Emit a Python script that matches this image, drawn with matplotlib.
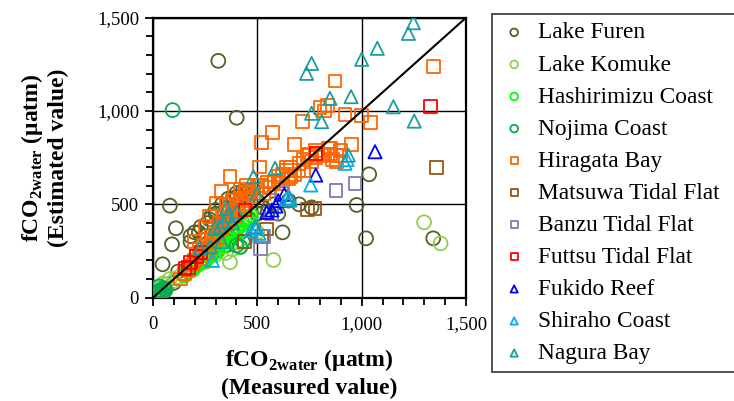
import matplotlib
matplotlib.use("Agg")
import matplotlib.pyplot as plt
from matplotlib.ticker import MultipleLocator, FuncFormatter

plt.rcParams['font.family'] = ['Liberation Serif', 'DejaVu Serif']
plt.rcParams['mathtext.fontset'] = 'custom'
plt.rcParams['mathtext.rm'] = 'Liberation Serif:bold'
plt.rcParams['mathtext.bf'] = 'Liberation Serif:bold'

# ---------------- data (measured, estimated) in uatm ----------------
furen_x = [20, 40, 60, 100, 120, 150, 46, 91, 110, 81, 180, 200, 230, 250, 270, 300, 320, 350, 380, 400,
           420, 450, 480, 500, 530, 550, 580, 600, 621, 650, 700, 760, 976, 1021, 1036, 1343, 313, 401,
           300, 350, 400, 420, 200, 250, 280, 340, 380, 460, 500,
           360, 400, 430, 460, 330, 300, 280, 260, 220, 180]
furen_y = [20, 30, 50, 80, 140, 120, 179, 286, 372, 493, 300, 350, 380, 330, 420, 450, 400, 480, 520, 560,
           540, 560, 580, 520, 480, 460, 500, 450, 350, 520, 500, 484, 497, 318, 661, 318, 1269, 964,
           250, 280, 300, 350, 180, 200, 230, 320, 350, 420, 450,
           530, 540, 570, 540, 500, 470, 440, 400, 350, 330]

komuke_x = [10, 20, 30, 40, 50, 60, 80, 100, 120, 150, 180, 200, 250, 300, 350, 369, 380, 400, 420, 450,
            500, 577, 1299, 1378]
komuke_y = [30, 50, 60, 40, 77, 70, 100, 90, 110, 130, 150, 160, 190, 230, 240, 190, 260, 300, 270, 320,
            350, 202, 404, 291]

hashi_x = [150, 170, 190, 200, 220, 230, 250, 260, 280, 290, 300, 310, 320, 330, 340, 350, 360, 370, 380,
           390, 400, 410, 420, 430, 440, 450, 460, 470, 250, 270, 300, 330, 350, 380, 400, 360, 320, 280,
           240, 210]
hashi_y = [120, 140, 150, 170, 180, 200, 210, 230, 240, 260, 270, 250, 290, 300, 280, 320, 330, 310, 350,
           340, 370, 380, 360, 400, 410, 420, 430, 440, 240, 220, 300, 330, 350, 380, 410, 390, 340, 280,
           230, 200]

nojima_x = [94, 20, 25, 30, 35, 40, 45, 50, 60, 30, 400, 430, 417]
nojima_y = [1005, 20, 35, 25, 40, 15, 30, 50, 40, 60, 280, 300, 273]

hiragata_x = [130, 150, 170, 190, 200, 210, 220, 230, 240, 250, 260, 270, 280, 290, 300, 310, 320, 330,
              340, 350, 360, 370, 380, 390, 400, 410, 420, 430, 440, 450, 460, 480, 500, 510, 521, 530,
              560, 573, 580, 600, 620, 640, 650, 660, 677, 680, 700, 716, 720, 740, 760, 780, 800, 810,
              820, 835, 840, 850, 860, 872, 880, 900, 920, 952, 1000, 1043, 1343, 329, 369, 305, 270,
              250, 200,
              350, 380, 420, 450, 470, 520, 550, 600, 620, 640, 660, 700, 720, 750, 780, 820, 850, 880, 900]
hiragata_y = [100, 130, 150, 175, 200, 230, 260, 210, 280, 240, 310, 270, 330, 300, 350, 320, 400, 370,
              430, 390, 460, 420, 470, 440, 500, 460, 530, 490, 560, 520, 570, 540, 600, 700, 832, 560,
              590, 886, 620, 650, 610, 680, 640, 700, 822, 660, 720, 943, 680, 760, 730, 790, 1020, 760,
              1000, 1030, 800, 770, 740, 1161, 760, 790, 982, 822, 975, 937, 1237, 568, 649, 506, 434,
              380, 300,
              500, 520, 580, 600, 560, 600, 620, 630, 660, 700, 650, 680, 740, 770, 750, 770, 800, 730, 760]

matsuwa_x = [1359, 776, 739, 545, 520, 440]
matsuwa_y = [696, 479, 473, 368, 330, 300]

banzu_x = [968, 877, 617, 569, 517, 530]
banzu_y = [613, 573, 559, 452, 264, 330]

futtsu_x = [1331, 781, 441, 209, 153, 180, 230, 170]
futtsu_y = [1023, 773, 470, 220, 157, 190, 240, 160]

fukido_x = [1064, 780, 629, 589, 545, 600, 570]
fukido_y = [782, 657, 554, 491, 457, 520, 470]

shiraho_x = [920, 756, 497, 508, 656, 640, 930, 285, 470]
shiraho_y = [720, 604, 375, 345, 534, 529, 740, 200, 360]

nagura_x = [1248, 1224, 1075, 1000, 760, 736, 1152, 1252, 949, 848, 760, 808, 936, 585, 481, 497, 656,
            353, 225, 273, 297, 337, 489, 320, 360, 380, 400, 330]
nagura_y = [1473, 1416, 1336, 1277, 1255, 1202, 1023, 946, 1077, 1068, 988, 943, 764, 693, 648, 559, 523,
            479, 265, 273, 372, 407, 380, 380, 440, 400, 460, 300]

series = [
    ("Lake Furen", furen_x, furen_y, 'o', '#4F6228'),
    ("Lake Komuke", komuke_x, komuke_y, 'o', '#92D050'),
    ("Hashirimizu Coast", hashi_x, hashi_y, 'o', '#00FF00'),
    ("Nojima Coast", nojima_x, nojima_y, 'o', '#00B050'),
    ("Hiragata Bay", hiragata_x, hiragata_y, 's', '#FF6600'),
    ("Matsuwa Tidal Flat", matsuwa_x, matsuwa_y, 's', '#985410'),
    ("Banzu Tidal Flat", banzu_x, banzu_y, 's', '#7C7CB4'),
    ("Futtsu Tidal Flat", futtsu_x, futtsu_y, 's', '#FF0000'),
    ("Fukido Reef", fukido_x, fukido_y, '^', '#0000FF'),
    ("Shiraho Coast", shiraho_x, shiraho_y, '^', '#00B0F0'),
    ("Nagura Bay", nagura_x, nagura_y, '^', '#1A9FA0'),
]
sizes = {'o': 100, 's': 85, '^': 90}

axis_min, axis_max = 0, 1500

fig = plt.figure(figsize=(7.34, 4.01), dpi=100)
ax = fig.add_axes([153 / 734, 1 - 297.7 / 401, 313 / 734, 280 / 401])

handles = []
for name, xs, ys, m, c in series:
    h = ax.scatter(xs, ys, marker=m, s=sizes[m], facecolors='none', edgecolors=c,
                   linewidths=1.3, label=name, zorder=3)
    handles.append(h)

ax.plot([axis_min, axis_max], [axis_min, axis_max], color='black', lw=1.5, zorder=4)

ax.set_xlim(axis_min, axis_max)
ax.set_ylim(axis_min, axis_max)
ax.xaxis.set_major_locator(MultipleLocator(500))
ax.yaxis.set_major_locator(MultipleLocator(500))
ax.xaxis.set_minor_locator(MultipleLocator(100))
ax.yaxis.set_minor_locator(MultipleLocator(100))
fmt = FuncFormatter(lambda v, p: f"{int(v):,}")
ax.xaxis.set_major_formatter(fmt)
ax.yaxis.set_major_formatter(fmt)
ax.grid(True, which='major', color='black', lw=1.0, zorder=1)
ax.tick_params(which='both', direction='out', width=1.3, labelsize=13.5, color='black')
ax.tick_params(which='major', length=6)
ax.tick_params(axis='x', which='major', pad=7)
ax.tick_params(axis='y', which='major', pad=4)
ax.tick_params(which='minor', length=5)
for s in ax.spines.values():
    s.set_linewidth(1.6)

lab = r'fCO$_{\mathrm{2water}}$ (μatm)'
ax.set_xlabel(lab + '\n(Measured value)', fontsize=17, fontweight='bold', labelpad=10, linespacing=1.3)
ax.set_ylabel(lab + '\n(Estimated value)', fontsize=17, fontweight='bold', labelpad=20, linespacing=1.2)

leg = fig.legend(handles=handles, loc='upper left',
                 bbox_to_anchor=(492 / 734, 0, 265 / 734, 1 - 14 / 401), mode='expand',
                 fontsize=16.8, frameon=True, fancybox=False, edgecolor='black', markerscale=0.55,
                 labelspacing=0.46, handletextpad=0.4, borderpad=0.35, handlelength=1.2,
                 borderaxespad=0)
leg.get_frame().set_linewidth(1.2)

fig.savefig('out.png', dpi=100)
